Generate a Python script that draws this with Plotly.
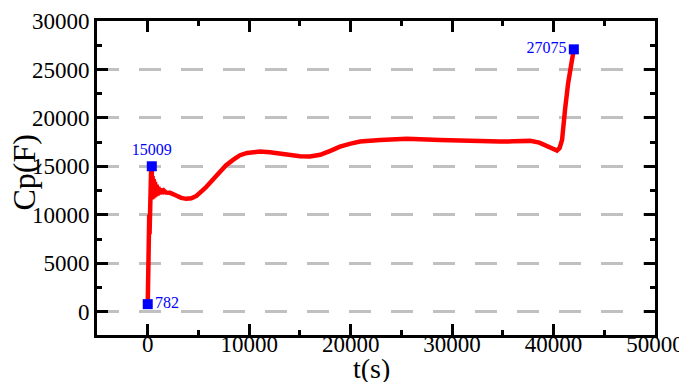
import plotly.graph_objects as go

# Main curve: time (s) and capacitance Cp (F)
t_values = [0, 30, 60, 90, 120, 150, 180, 210, 240, 270, 300, 330, 360, 400,
            420, 480, 540, 600, 660, 720, 800, 880, 960, 1050, 1150, 1250, 1400, 1600, 1800,
            2200, 2800, 3300, 3800, 4300, 4800, 5150, 5700, 6300, 6830, 7130, 7700, 8410,
            9100, 9790, 10500, 11070, 12050, 13000, 13700, 15000, 16000, 17000, 18000,
            18950, 20000, 20930, 22900, 25550, 28800, 31450, 34700, 36000, 37700, 38600,
            39350, 40000, 40340, 40600, 40840, 41130, 41440, 41820, 42000]
cp_values = [782, 4000, 3000, 7000, 5500, 10000, 8000, 12500, 10500, 14000, 12000, 14500, 13000, 15009,
             11600, 14000, 11700, 13700, 11800, 13400, 11900, 13100, 12000, 12900, 12100, 12700, 12200, 12500, 12300,
             12270, 12000, 11750, 11650, 11700, 11950, 12270, 12800, 13500, 14120, 14500, 15100, 15670,
             16150, 16390, 16500, 16530, 16460, 16300, 16190, 16050, 16010, 16190, 16600,
             17040, 17350, 17560, 17730, 17840, 17730, 17630, 17560, 17580, 17630, 17450,
             17040, 16800, 16630, 16900, 17730, 20830, 23600, 25980, 27075]

# Marked points
mark_t = [0, 400, 42000]
mark_cp = [782, 15009, 27075]
mark_labels = ["782", "15009", "27075"]
mark_positions = ["middle right", "top center", "middle left"]

# Axis ticks
x_ticks = [0, 10000, 20000, 30000, 40000, 50000]
y_ticks = [0, 5000, 10000, 15000, 20000, 25000, 30000]

x_title = "t(s)"
y_title = "Cp(F)"

FONT = "'Liberation Serif', 'Times New Roman', Times, serif"

fig = go.Figure()
fig.add_trace(go.Scatter(
    x=t_values, y=cp_values, mode="lines",
    line=dict(color="#ff0000", width=4.5),
    showlegend=False, hoverinfo="skip"))
fig.add_trace(go.Scatter(
    x=mark_t, y=mark_cp, mode="markers+text",
    marker=dict(symbol="square", size=10, color="#0000ff"),
    text=mark_labels, textposition=mark_positions,
    textfont=dict(family=FONT, size=16, color="#0000ff"),
    showlegend=False))

axis_common = dict(
    showline=True, linewidth=3, linecolor="black", mirror="ticks",
    ticks="inside", ticklen=11, tickwidth=3, tickcolor="black",
    tickfont=dict(family=FONT, size=23, color="black"),
    tickformat="d", zeroline=False, automargin=False,
)

fig.update_xaxes(
    range=[-5000, 50000], tickvals=x_ticks, showgrid=False,
    minor=dict(ticks="inside", ticklen=5, tickwidth=3, tickcolor="black", dtick=5000, tick0=0),
    ticklabelstandoff=-14,
    **axis_common)
fig.update_yaxes(
    range=[-2400, 30000], tickvals=y_ticks,
    showgrid=True, gridcolor="#c0c0c0", gridwidth=3, griddash="22px,20px",
    minor=dict(ticks="inside", ticklen=5, tickwidth=3, tickcolor="black", dtick=2500, tick0=0),
    **axis_common)

# Axis titles as paper-anchored texts for exact placement
fig.add_annotation(text=x_title, xref="paper", yref="paper", x=0.4928, y=-0.106,
                   xanchor="center", yanchor="middle", showarrow=False,
                   font=dict(family=FONT, size=28, color="black"))
fig.add_annotation(text=y_title, xref="paper", yref="paper", x=-0.130, y=0.519,
                   xanchor="center", yanchor="middle", showarrow=False, textangle=-90,
                   font=dict(family=FONT, size=32, color="black"))

# The page shows the figure 8 px in from the top-left corner, so the
# figure is made 8 px smaller and its left/top margins 8 px narrower.
fig.update_layout(
    width=679, height=374,
    margin=dict(l=89, r=32, t=13, b=47),
    paper_bgcolor="white", plot_bgcolor="white",
    font=dict(family=FONT),
)

fig.write_html("out.html")
